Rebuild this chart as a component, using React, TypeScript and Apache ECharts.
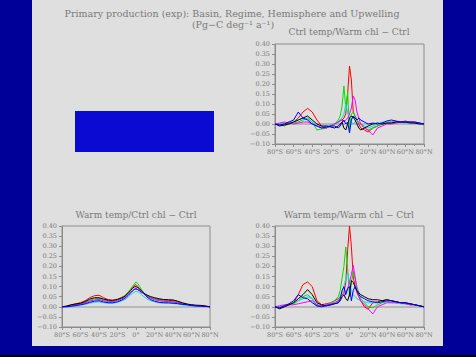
import React, { useEffect, useRef } from "react";
import * as echarts from "echarts";

const LAT = [-80,-75,-70,-65,-60,-55,-50,-45,-40,-35,-30,-25,-20,-16,-12,-10,-8,-6,-4,-2,0,2,4,6,8,10,12,16,20,25,30,35,40,45,50,55,60,65,70,75,80];

const MAIN_TITLE = "Primary production (exp): Basin, Regime, Hemisphere and Upwelling";
const SUB_TITLE = "(Pg\u2212C deg\u207B\u00B9 a\u207B\u00B9)";
const PANEL_TITLES = ["Ctrl temp/Warm chl \u2212 Ctrl", "Warm temp/Ctrl chl \u2212 Ctrl", "Warm temp/Warm chl \u2212 Ctrl"];
const COLORS = ["#ff0000", "#00e000", "#00e0e0", "#ff00ff", "#000000", "#0000ff"];

// Top-right: Ctrl temp / Warm chl - Ctrl
const TR_RED = [0.0,-0.005,0.0,0.005,0.01,0.03,0.06,0.078,0.06,0.02,-0.01,-0.02,-0.01,0.0,0.01,0.02,0.02,0.03,0.05,0.15,0.29,0.22,0.06,0.04,0.02,0.0,-0.02,-0.03,-0.04,-0.02,-0.01,0.0,0.005,0.01,0.01,0.01,0.015,0.01,0.01,0.005,0.0];
const TR_GREEN = [0.0,0.0,-0.01,0.0,0.005,0.01,0.02,0.03,0.01,-0.03,-0.025,-0.02,-0.01,0.0,0.02,0.04,0.09,0.19,0.08,0.16,-0.03,0.05,0.06,0.04,0.02,0.01,0.0,-0.02,-0.03,-0.02,-0.01,0.0,0.005,0.005,0.01,0.01,0.01,0.01,0.005,0.005,0.0];
const TR_CYAN = [0.0,0.0,0.005,0.01,0.01,0.02,0.03,0.025,0.01,-0.01,-0.015,-0.01,-0.005,0.0,0.005,0.02,0.03,0.05,0.1,0.06,0.02,0.01,0.0,0.01,0.02,0.01,0.0,-0.01,-0.02,-0.01,0.0,0.01,0.01,0.01,0.01,0.01,0.005,0.005,0.005,0.0,0.0];
const TR_MAGENTA = [0.0,0.005,0.01,0.005,0.0,0.005,0.01,0.01,0.0,-0.01,-0.02,-0.02,-0.01,0.0,0.01,0.015,0.02,0.01,0.02,0.03,0.05,0.08,0.14,0.12,0.06,0.03,0.0,-0.02,-0.03,-0.055,-0.02,-0.01,0.0,0.0,0.005,0.01,0.01,0.01,0.005,0.005,0.0];
const TR_BLACK = [0.0,-0.01,-0.005,0.0,0.01,0.02,0.03,0.04,0.02,0.0,-0.01,-0.01,-0.015,-0.02,-0.01,0.0,0.01,-0.02,-0.03,0.0,0.03,0.04,0.035,0.02,0.0,-0.02,-0.03,-0.02,-0.01,0.0,0.005,0.0,0.005,0.005,0.01,0.01,0.01,0.005,0.005,0.0,0.0];
const TR_BLUE = [0.0,-0.005,0.0,0.01,0.02,0.06,0.03,0.02,0.0,-0.01,-0.02,-0.015,-0.01,-0.01,-0.02,-0.01,0.01,0.02,0.0,0.01,-0.045,0.02,0.04,0.03,0.02,0.03,0.02,0.01,0.0,0.005,0.0,0.005,0.015,0.02,0.015,0.01,0.01,0.01,0.01,0.005,0.0];

// Bottom-left: Warm temp / Ctrl chl - Ctrl
const BL_RED = [0.0,0.002,0.01,0.015,0.02,0.03,0.045,0.055,0.057,0.045,0.035,0.032,0.038,0.045,0.055,0.065,0.075,0.085,0.095,0.105,0.11,0.1,0.09,0.08,0.07,0.062,0.055,0.045,0.04,0.035,0.033,0.032,0.03,0.025,0.018,0.012,0.008,0.006,0.005,0.003,0.0];
const BL_GREEN = [0.0,0.002,0.008,0.012,0.016,0.022,0.032,0.04,0.042,0.035,0.03,0.03,0.036,0.045,0.055,0.065,0.075,0.087,0.1,0.112,0.123,0.115,0.1,0.085,0.072,0.062,0.055,0.045,0.038,0.032,0.028,0.027,0.025,0.022,0.016,0.012,0.008,0.006,0.004,0.002,0.0];
const BL_CYAN = [0.0,0.0,0.002,0.004,0.008,0.012,0.018,0.022,0.024,0.02,0.018,0.018,0.022,0.028,0.036,0.043,0.05,0.058,0.066,0.072,0.076,0.074,0.068,0.06,0.052,0.045,0.038,0.03,0.025,0.02,0.018,0.017,0.016,0.014,0.01,0.008,0.005,0.003,0.002,0.001,0.0];
const BL_MAGENTA = [0.0,0.002,0.006,0.01,0.014,0.02,0.028,0.034,0.036,0.03,0.026,0.026,0.031,0.038,0.047,0.055,0.063,0.072,0.08,0.086,0.088,0.085,0.08,0.075,0.066,0.058,0.05,0.042,0.035,0.03,0.027,0.026,0.024,0.02,0.015,0.011,0.008,0.005,0.004,0.002,0.0];
const BL_BLACK = [0.0,0.004,0.01,0.014,0.018,0.026,0.038,0.045,0.045,0.038,0.033,0.032,0.036,0.043,0.052,0.06,0.07,0.08,0.09,0.098,0.1,0.095,0.088,0.078,0.07,0.063,0.058,0.05,0.045,0.04,0.036,0.035,0.034,0.028,0.02,0.014,0.01,0.008,0.007,0.004,0.0];
const BL_BLUE = [0.0,0.0,0.003,0.006,0.01,0.015,0.022,0.028,0.03,0.024,0.02,0.02,0.025,0.032,0.042,0.05,0.058,0.068,0.078,0.086,0.09,0.085,0.078,0.07,0.068,0.06,0.048,0.035,0.028,0.022,0.02,0.02,0.018,0.016,0.012,0.01,0.006,0.004,0.003,0.002,0.0];

// Bottom-right: Warm temp / Warm chl - Ctrl
const BR_RED = [0.0,-0.005,0.0,0.01,0.02,0.06,0.11,0.123,0.1,0.03,0.01,0.015,0.02,0.03,0.04,0.05,0.06,0.07,0.12,0.28,0.4,0.3,0.15,0.1,0.07,0.05,0.03,0.0,-0.012,0.02,0.025,0.03,0.035,0.03,0.025,0.02,0.018,0.015,0.01,0.005,0.0];
const BR_GREEN = [0.0,0.0,0.005,0.01,0.015,0.03,0.05,0.06,0.04,0.0,0.005,0.01,0.02,0.03,0.05,0.08,0.14,0.2,0.296,0.19,0.05,0.12,0.17,0.14,0.1,0.07,0.04,0.02,0.0,-0.005,0.01,0.02,0.025,0.025,0.02,0.02,0.015,0.01,0.01,0.005,0.0];
const BR_CYAN = [0.0,0.0,0.005,0.01,0.02,0.03,0.04,0.05,0.04,0.01,0.005,0.01,0.015,0.02,0.03,0.05,0.07,0.1,0.14,0.17,0.12,0.08,0.06,0.05,0.04,0.035,0.03,0.025,0.02,0.02,0.02,0.025,0.025,0.02,0.02,0.015,0.015,0.01,0.01,0.005,0.0];
const BR_MAGENTA = [0.0,0.005,0.01,0.01,0.01,0.015,0.02,0.025,0.03,0.01,0.005,0.01,0.015,0.02,0.03,0.04,0.05,0.06,0.07,0.09,0.12,0.16,0.205,0.15,0.08,0.05,0.03,0.01,-0.01,-0.035,0.0,0.01,0.02,0.02,0.02,0.02,0.015,0.01,0.01,0.005,0.0];
const BR_BLACK = [0.0,-0.01,0.0,0.01,0.02,0.04,0.06,0.085,0.06,0.02,0.01,0.005,0.01,0.015,0.02,0.03,0.05,0.06,0.04,0.03,0.06,0.13,0.12,0.1,0.08,0.07,0.06,0.05,0.04,0.035,0.035,0.03,0.035,0.03,0.025,0.02,0.02,0.015,0.01,0.005,0.0];
const BR_BLUE = [0.0,-0.005,0.005,0.015,0.03,0.06,0.045,0.04,0.02,0.005,0.0,0.005,0.01,0.015,0.02,0.04,0.08,0.1,0.06,0.09,0.1,0.03,0.08,0.1,0.08,0.06,0.05,0.04,0.03,0.025,0.02,0.025,0.03,0.03,0.025,0.02,0.02,0.015,0.01,0.005,0.0];

const PANELS = [
  [TR_RED, TR_GREEN, TR_CYAN, TR_MAGENTA, TR_BLACK, TR_BLUE],
  [BL_RED, BL_GREEN, BL_CYAN, BL_MAGENTA, BL_BLACK, BL_BLUE],
  [BR_RED, BR_GREEN, BR_CYAN, BR_MAGENTA, BR_BLACK, BR_BLUE],
];

const GRIDS = [
  { left: 275, top: 44, width: 149, height: 100 },
  { left: 62, top: 226, width: 148, height: 101 },
  { left: 275, top: 226, width: 149, height: 101 },
];
const TITLE_POS = [
  { x: 349, y: 32 },
  { x: 136, y: 215 },
  { x: 349, y: 215 },
];

const FONT = "DejaVu Serif, Liberation Serif, serif";
const TEXT_COLOR = "#7a7a7a";
const AXIS_COLOR = "#8c8c8c";

function latLabel(v: number) {
  if (Math.abs(v) < 1e-9) return "0\u00B0";
  return v < 0 ? `${-v}\u00B0S` : `${v}\u00B0N`;
}
function valLabel(v: number) {
  if (Math.abs(v) < 1e-9) return "0.00";
  const s = Math.abs(v).toFixed(2);
  return v < 0 ? "\u2212" + s : s;
}

export default function App() {
  const ref = useRef<HTMLDivElement>(null);
  useEffect(() => {
    if (!ref.current) return;
    const chart = echarts.init(ref.current, null, { renderer: "svg" });
    const grid = GRIDS.map((g) => ({
      ...g,
      show: true,
      borderColor: AXIS_COLOR,
      borderWidth: 1,
      backgroundColor: "transparent",
      containLabel: false,
    }));
    const xAxis = GRIDS.map((_, i) => ({
      type: "value",
      gridIndex: i,
      min: -80,
      max: 80,
      interval: 20,
      splitLine: { show: false },
      axisLine: { show: true, onZero: false, lineStyle: { color: AXIS_COLOR, width: 1 } },
      axisTick: { show: true, length: 3, lineStyle: { color: AXIS_COLOR } },
      minorTick: { show: true, splitNumber: 2, length: 2, lineStyle: { color: AXIS_COLOR } },
      axisLabel: {
        formatter: latLabel,
        color: TEXT_COLOR,
        fontFamily: FONT,
        fontSize: 6.5,
        margin: 4,
      },
    }));
    const yAxis = GRIDS.map((_, i) => ({
      type: "value",
      gridIndex: i,
      min: -0.1,
      max: 0.4,
      interval: 0.05,
      splitLine: { show: false },
      axisLine: { show: true, onZero: false, lineStyle: { color: AXIS_COLOR, width: 1 } },
      axisTick: { show: true, length: 3, lineStyle: { color: AXIS_COLOR } },
      axisLabel: {
        formatter: valLabel,
        color: TEXT_COLOR,
        fontFamily: FONT,
        fontSize: 6.5,
        margin: 5,
      },
    }));
    const series: any[] = [];
    PANELS.forEach((panel, gi) => {
      panel.forEach((arr, si) => {
        series.push({
          type: "line",
          xAxisIndex: gi,
          yAxisIndex: gi,
          data: LAT.map((lat, k) => [lat, arr[k]]),
          symbol: "none",
          lineStyle: { width: 1, color: COLORS[si] },
          itemStyle: { color: COLORS[si] },
          z: 3,
          markLine:
            si === 0
              ? {
                  silent: true,
                  symbol: "none",
                  label: { show: false },
                  lineStyle: { color: "#b8b8b8", width: 2, type: "solid" },
                  data: [{ yAxis: 0 }],
                  z: 1,
                }
              : undefined,
        });
      });
    });
    const graphic: any[] = [
      {
        type: "rect",
        shape: { x: 75, y: 111, width: 139, height: 41 },
        style: { fill: "#0a0ad2" },
      },
      {
        type: "text",
        x: 232,
        y: 13.5,
        style: {
          text: MAIN_TITLE,
          font: `9.5px ${FONT}`,
          fill: TEXT_COLOR,
          textAlign: "center",
          textVerticalAlign: "middle",
        },
      },
      {
        type: "text",
        x: 233,
        y: 24.5,
        style: {
          text: SUB_TITLE,
          font: `9.5px ${FONT}`,
          fill: TEXT_COLOR,
          textAlign: "center",
          textVerticalAlign: "middle",
        },
      },
      ...PANEL_TITLES.map((t, i) => ({
        type: "text",
        x: TITLE_POS[i].x,
        y: TITLE_POS[i].y,
        style: {
          text: t,
          font: `9px ${FONT}`,
          fill: TEXT_COLOR,
          textAlign: "center",
          textVerticalAlign: "middle",
        },
      })),
    ];
    chart.setOption({
      animation: false,
      backgroundColor: "transparent",
      grid,
      xAxis,
      yAxis,
      series,
      graphic,
    });
    return () => chart.dispose();
  }, []);
  return (
    <div style={{ position: "fixed", left: 0, top: 0, width: 476, height: 357, background: "#000099" }}>
      <div style={{ position: "absolute", left: 32, top: 0, width: 411, height: 346, background: "#dfdfdf" }} />
      <div style={{ position: "absolute", left: 0, top: 355, width: 476, height: 2, background: "#000000" }} />
      <div ref={ref} style={{ position: "absolute", left: 0, top: 0, width: 476, height: 357 }} />
    </div>
  );
}
